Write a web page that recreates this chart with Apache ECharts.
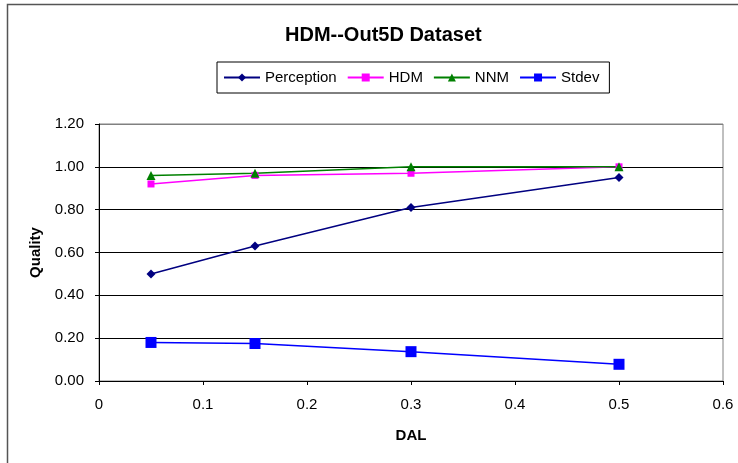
<!DOCTYPE html>
<html><head><meta charset="utf-8">
<script src="https://cdn.jsdelivr.net/npm/echarts@6/dist/echarts.min.js"></script>
<style>html,body{margin:0;padding:0;background:#fff}#c{width:738px;height:463px}</style>
</head><body><div id="c"></div>
<script>
const dal = [0.05, 0.15, 0.3, 0.5];
const perception = [0.50, 0.63, 0.81, 0.95];
const hdm = [0.92, 0.96, 0.97, 1.00];
const nnm = [0.96, 0.97, 1.00, 1.00];
const stdev = [0.18, 0.175, 0.137, 0.078];
const seriesNames = ['Perception', 'HDM', 'NNM', 'Stdev'];
const titleText = 'HDM--Out5D Dataset';

const pair = (ys) => dal.map((x, i) => [x, ys[i]]);
const font = 'Liberation Sans, Arial, sans-serif';
const chart = echarts.init(document.getElementById('c'));
chart.setOption({
  animation: false,
  backgroundColor: '#fff',
  graphic: [{type:'rect', shape:{x:7.5,y:4.5,width:740,height:470}, style:{fill:'none', stroke:'#555', lineWidth:1.5}, z:-1}],
  title: {text: titleText, left: 280, top: 20, textStyle:{fontFamily:font, fontSize:20, fontWeight:'bold', color:'#000'}},
  legend: {
    data: seriesNames, top: 62, left: 217, width: 400,
    borderColor:'#000', borderWidth:1, padding:[8,10,8,6], itemGap: 10,
    itemWidth: 36, itemHeight: 10,
    textStyle:{fontFamily:font, fontSize:15, color:'#000'}
  },
  grid: {left: 99, top: 124, right: 15, bottom: 82, show: true, borderColor:'#808080', borderWidth:1},
  xAxis: {
    type:'value', min:0, max:0.6, interval:0.1,
    name:'DAL', nameLocation:'middle', nameGap:47,
    nameTextStyle:{fontFamily:font, fontSize:15, fontWeight:'bold', color:'#000'},
    axisLine:{lineStyle:{color:'#000'}}, axisTick:{show:true, inside:false, length:4, lineStyle:{color:'#000'}},
    axisLabel:{fontFamily:font, fontSize:15, color:'#000', margin:16},
    splitLine:{show:false}
  },
  yAxis: {
    type:'value', min:0, max:1.2, interval:0.2,
    name:'Quality', nameLocation:'middle', nameGap:56, nameRotate:90,
    nameTextStyle:{fontFamily:font, fontSize:15, fontWeight:'bold', color:'#000'},
    axisLine:{show:true, lineStyle:{color:'#000'}}, axisTick:{show:true, inside:false, length:4, lineStyle:{color:'#000'}},
    axisLabel:{fontFamily:font, fontSize:15, color:'#000', margin:15, formatter:(v)=>v.toFixed(2)},
    splitLine:{show:true, lineStyle:{color:['#000','#000','#000','#000','#000','#000','#808080'], width:1}}
  },
  series: [
    {name:seriesNames[0], type:'line', data:pair(perception), symbol:'diamond', symbolSize:9,
     lineStyle:{color:'#000080', width:1.5}, itemStyle:{color:'#000080'}},
    {name:seriesNames[1], type:'line', data:pair(hdm), symbol:'rect', symbolSize:7,
     lineStyle:{color:'#FF00FF', width:1.5}, itemStyle:{color:'#FF00FF'}},
    {name:seriesNames[2], type:'line', data:pair(nnm), symbol:'triangle', symbolSize:9,
     lineStyle:{color:'#008000', width:1.5}, itemStyle:{color:'#008000'}},
    {name:seriesNames[3], type:'line', data:pair(stdev), symbol:'rect', symbolSize:11,
     lineStyle:{color:'#0000FF', width:1.5}, itemStyle:{color:'#0000FF'}}
  ]
});
</script></body></html>
